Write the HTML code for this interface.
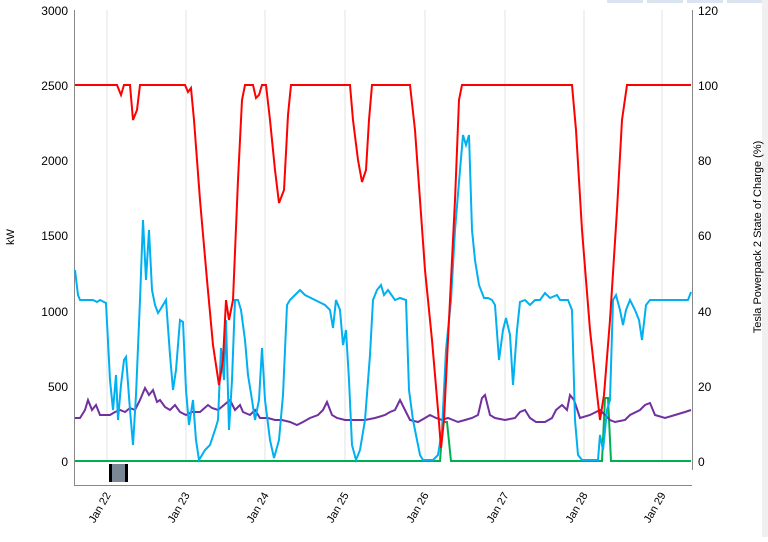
<!DOCTYPE html><html><head><style>body{margin:0;background:#fff;}svg{font-family:"Liberation Sans",sans-serif;}</style></head><body>
<svg width="768" height="537" xmlns="http://www.w3.org/2000/svg">
<rect x="607" y="0" width="36" height="3" fill="#dbe5f1"/><rect x="647" y="0" width="36" height="3" fill="#dbe5f1"/><rect x="687" y="0" width="36" height="3" fill="#dbe5f1"/><rect x="727" y="0" width="36" height="3" fill="#dbe5f1"/>
<rect x="762" y="0" width="6" height="537" fill="#f0f0f0"/>
<g stroke="#e3e3e3" stroke-width="1">
<line x1="107" y1="10" x2="107" y2="461"/><line x1="186" y1="10" x2="186" y2="461"/><line x1="265" y1="10" x2="265" y2="461"/><line x1="345" y1="10" x2="345" y2="461"/><line x1="425" y1="10" x2="425" y2="461"/><line x1="505" y1="10" x2="505" y2="461"/><line x1="584" y1="10" x2="584" y2="461"/><line x1="662" y1="10" x2="662" y2="461"/>
</g>
<line x1="74.5" y1="10" x2="74.5" y2="485" stroke="#888"/>
<line x1="692.5" y1="10" x2="692.5" y2="470" stroke="#888"/>
<line x1="74" y1="485.5" x2="692" y2="485.5" stroke="#888"/>
<g font-size="12" fill="#000" text-anchor="end">
<text x="68" y="15">3000</text><text x="68" y="90">2500</text><text x="68" y="165">2000</text><text x="68" y="240">1500</text><text x="68" y="316">1000</text><text x="68" y="391">500</text><text x="68" y="466">0</text>
</g>
<g font-size="12" fill="#000">
<text x="698" y="15">120</text><text x="698" y="90">100</text><text x="698" y="165">80</text><text x="698" y="240">60</text><text x="698" y="316">40</text><text x="698" y="391">20</text><text x="698" y="466">0</text>
</g>
<text transform="translate(14,237) rotate(-90)" font-size="11" text-anchor="middle">kW</text>
<text transform="translate(761,237) rotate(-90)" font-size="11" text-anchor="middle">Tesla Powerpack 2 State of Charge (%)</text>
<g font-size="11" fill="#000" text-anchor="end">
<text transform="translate(111,495) rotate(-60)">Jan 22</text><text transform="translate(190,495) rotate(-60)">Jan 23</text><text transform="translate(269,495) rotate(-60)">Jan 24</text><text transform="translate(349,495) rotate(-60)">Jan 25</text><text transform="translate(429,495) rotate(-60)">Jan 26</text><text transform="translate(509,495) rotate(-60)">Jan 27</text><text transform="translate(588,495) rotate(-60)">Jan 28</text><text transform="translate(666,495) rotate(-60)">Jan 29</text>
</g>
<rect x="109" y="464" width="18" height="18" fill="#7a8896" stroke="none"/>
<rect x="109" y="464" width="3" height="18" fill="#000"/><rect x="125" y="464" width="3" height="18" fill="#000"/>
<polyline fill="none" stroke="#00b050" stroke-width="2" points="75,461 440,461 443,422 447,422 451,461 602,461 605,398 608,398 611,461 691,461"/>
<polyline fill="none" stroke="#7030a0" stroke-width="2" points="75,418 80,418 85,410 88,400 92,410 96,405 100,415 110,415 115,412 120,410 125,412 130,408 135,410 140,400 145,388 149,395 153,390 157,402 160,400 165,407 170,410 175,405 180,412 186,415 192,412 200,412 208,405 212,408 218,410 224,405 230,400 235,410 240,405 243,412 250,415 255,410 260,418 268,418 275,420 282,420 290,422 297,425 303,422 310,418 318,415 323,410 327,402 332,415 337,418 345,420 355,420 365,420 375,418 385,415 390,412 395,410 400,400 405,410 410,420 418,422 425,418 430,415 436,418 442,420 448,418 453,420 458,422 465,420 472,418 478,415 482,398 485,395 490,415 495,418 505,420 515,418 520,412 525,410 530,418 536,422 545,422 552,418 556,410 562,405 567,410 570,395 574,400 580,418 590,415 600,410 605,415 610,420 615,422 625,420 630,415 640,410 645,405 650,403 655,415 665,418 675,415 685,412 691,410"/>
<polyline fill="none" stroke="#00b0f0" stroke-width="2" points="75,270 78,295 80,300 93,300 97,302 100,300 106,303 110,380 113,410 116,375 118,420 121,385 124,360 126,357 130,410 133,445 136,395 140,300 143,220 146,280 149,230 152,290 155,305 158,313 160,310 166,300 170,355 173,390 176,370 180,320 183,322 186,390 189,425 193,400 196,440 199,460 205,450 210,445 215,430 218,420 221,348 224,380 226,320 229,430 232,380 235,300 238,300 241,310 245,340 248,375 252,400 255,420 259,400 262,348 265,400 270,440 274,458 279,440 283,395 287,305 290,300 295,295 300,290 305,295 315,300 325,305 330,310 333,328 336,300 340,310 343,345 346,330 349,380 352,445 356,460 360,450 365,420 370,355 373,300 377,290 381,285 384,295 388,290 395,300 400,298 406,300 409,390 413,420 417,440 420,455 423,460 433,460 438,455 442,430 446,350 451,300 455,230 460,170 463,135 466,145 469,135 472,230 475,260 479,285 484,298 488,298 492,300 495,305 499,360 503,330 506,318 510,335 513,385 517,330 520,302 525,300 530,305 535,300 540,300 545,293 550,298 557,295 560,300 568,300 572,310 575,420 578,455 582,460 598,460 600,435 603,450 607,410 610,400 613,300 616,295 620,310 623,325 626,310 630,300 635,310 639,320 642,340 646,305 650,300 656,300 662,300 670,300 688,300 691,292"/>
<polyline fill="none" stroke="#ff0000" stroke-width="2" points="75,85 117,85 121,95 124,85 130,85 133,120 137,110 140,85 185,85 188,92 191,88 194,120 200,200 207,280 213,345 219,385 223,360 226,300 229,320 233,300 238,180 242,100 245,85 253,85 256,98 259,95 262,85 266,85 270,120 275,170 279,203 284,190 288,115 291,85 350,85 353,120 358,160 362,182 366,170 369,120 372,85 410,85 415,130 420,200 425,270 432,340 438,410 441,448 444,420 450,300 455,200 459,100 462,85 572,85 576,130 582,230 590,330 596,385 600,420 604,395 610,320 617,210 622,120 627,85 691,85"/>
</svg>
</body></html>
